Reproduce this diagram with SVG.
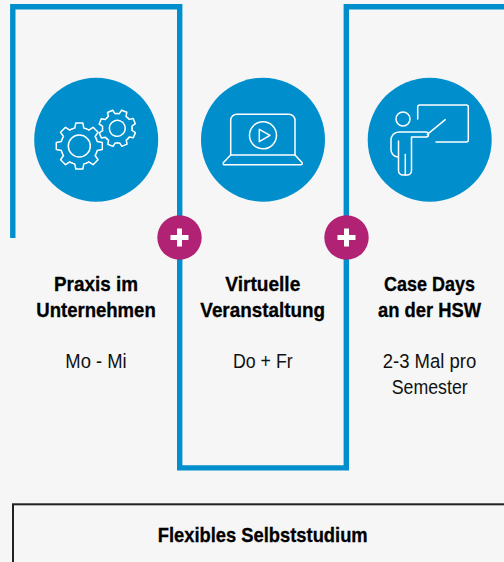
<svg xmlns="http://www.w3.org/2000/svg" width="504" height="562" viewBox="0 0 504 562">
<style>
.frame{fill:none;stroke:#008FCC;stroke-width:5.4}
.disc{fill:#008FCC}
.plus{fill:#B12275}
.cross{fill:#fff}
.ic{fill:none;stroke:#fff;stroke-width:1.5;stroke-linecap:round;stroke-linejoin:round}
text{font-family:"Liberation Sans Narrow","Liberation Sans",Arial,sans-serif;text-anchor:middle;fill:#111;font-size:20.5px}
.b{font-weight:700;fill:#000;stroke:#000;stroke-width:.3}
</style>
<defs>
<path id="seg" d="M-7.08-17.09A18.5 18.5 0 0 1-4.5-17.94L-3.5-23H3.5L4.5-17.94A18.5 18.5 0 0 1 7.08-17.09"/>
<g id="gear">
<use href="#seg"/><use href="#seg" transform="rotate(45)"/><use href="#seg" transform="rotate(90)"/><use href="#seg" transform="rotate(135)"/><use href="#seg" transform="rotate(180)"/><use href="#seg" transform="rotate(225)"/><use href="#seg" transform="rotate(270)"/><use href="#seg" transform="rotate(315)"/>
</g>
</defs>
<rect width="504" height="562" fill="#F6F6F6"/>
<g id="connectors">
<path class="frame" d="M12.8 238V6.8H179.7V467.9H346.3V6.8H504"/>
</g>
<g id="node-praxis">
<circle class="disc" cx="96.2" cy="139.7" r="62"/>
<g class="ic">
<g transform="translate(79.3 146)"><use href="#gear"/><circle r="11"/></g>
<g transform="translate(117.3 128.3) rotate(22) scale(.8)" stroke-width="1.9"><use href="#gear"/><circle r="10"/></g>
</g>
<text class="b" x="96" y="290.5" textLength="84" lengthAdjust="spacingAndGlyphs">Praxis im</text>
<text class="b" x="96" y="316.5" textLength="119.5" lengthAdjust="spacingAndGlyphs">Unternehmen</text>
<text x="96" y="367.5" textLength="61.4" lengthAdjust="spacingAndGlyphs">Mo - Mi</text>
</g>
<g id="node-virtuell">
<circle class="disc" cx="263" cy="139.7" r="62"/>
<g class="ic">
<path d="M230.7 155V120.3a6 6 0 0 1 6-6H289a6 6 0 0 1 6 6V155"/>
<path d="M230.7 155L223.5 162.5Q222.5 164.8 225 164.8H300.6Q303 164.8 302 162.5L295 155Z"/>
<circle cx="263" cy="135.3" r="13.5"/>
<path d="M259.3 129.3L270 135.3L259.3 141.7Z"/>
</g>
<text class="b" x="262.8" y="290.5" textLength="75" lengthAdjust="spacingAndGlyphs">Virtuelle</text>
<text class="b" x="262.7" y="316.5" textLength="124.7" lengthAdjust="spacingAndGlyphs">Veranstaltung</text>
<text x="262.8" y="367.5" textLength="59.7" lengthAdjust="spacingAndGlyphs">Do + Fr</text>
</g>
<g id="node-case">
<circle class="disc" cx="429.7" cy="139.7" r="62"/>
<g class="ic">
<path d="M417.7 119V107a2 2 0 0 1 2-2H466.3a2 2 0 0 1 2 2V140a2 2 0 0 1-2 2H436"/>
<circle cx="403" cy="119" r="7"/>
<path d="M427.3 134.3L445.3 119.7"/>
<path d="M398.3 157A7.3 7.3 0 0 1 391 150V140a8 8 0 0 1 8-8H426a2.5 2.5 0 0 1 0 5H411.5V170.5a4.5 4.5 0 0 1-4.5 4.5H403a4.5 4.5 0 0 1-4.5-4.5V141"/>
<path d="M405.3 154.5V175"/>
</g>
<text class="b" x="429.5" y="290.5" textLength="91" lengthAdjust="spacingAndGlyphs">Case Days</text>
<text class="b" x="429.5" y="316.5" textLength="103" lengthAdjust="spacingAndGlyphs">an der HSW</text>
<text x="429.5" y="367.5" textLength="93.6" lengthAdjust="spacingAndGlyphs">2-3 Mal pro</text>
<text x="429.7" y="393.5" textLength="76" lengthAdjust="spacingAndGlyphs">Semester</text>
</g>
<g id="plus-1">
<circle class="plus" cx="179.5" cy="237.5" r="22.2"/>
<path class="cross" d="M177 228.5h5v6.5h6.5v5H182v6.5h-5V240h-6.5v-5h6.5z"/>
</g>
<g id="plus-2">
<circle class="plus" cx="346.5" cy="237.5" r="22.2"/>
<path class="cross" d="M344 228.5h5v6.5h6.5v5H349v6.5h-5V240h-6.5v-5h6.5z"/>
</g>
<g id="node-selbststudium">
<rect x="13" y="504.3" width="520" height="90" fill="none" stroke="#222" stroke-width="2"/>
<text class="b" x="262.7" y="542" textLength="210" lengthAdjust="spacingAndGlyphs">Flexibles Selbststudium</text>
</g>
</svg>
